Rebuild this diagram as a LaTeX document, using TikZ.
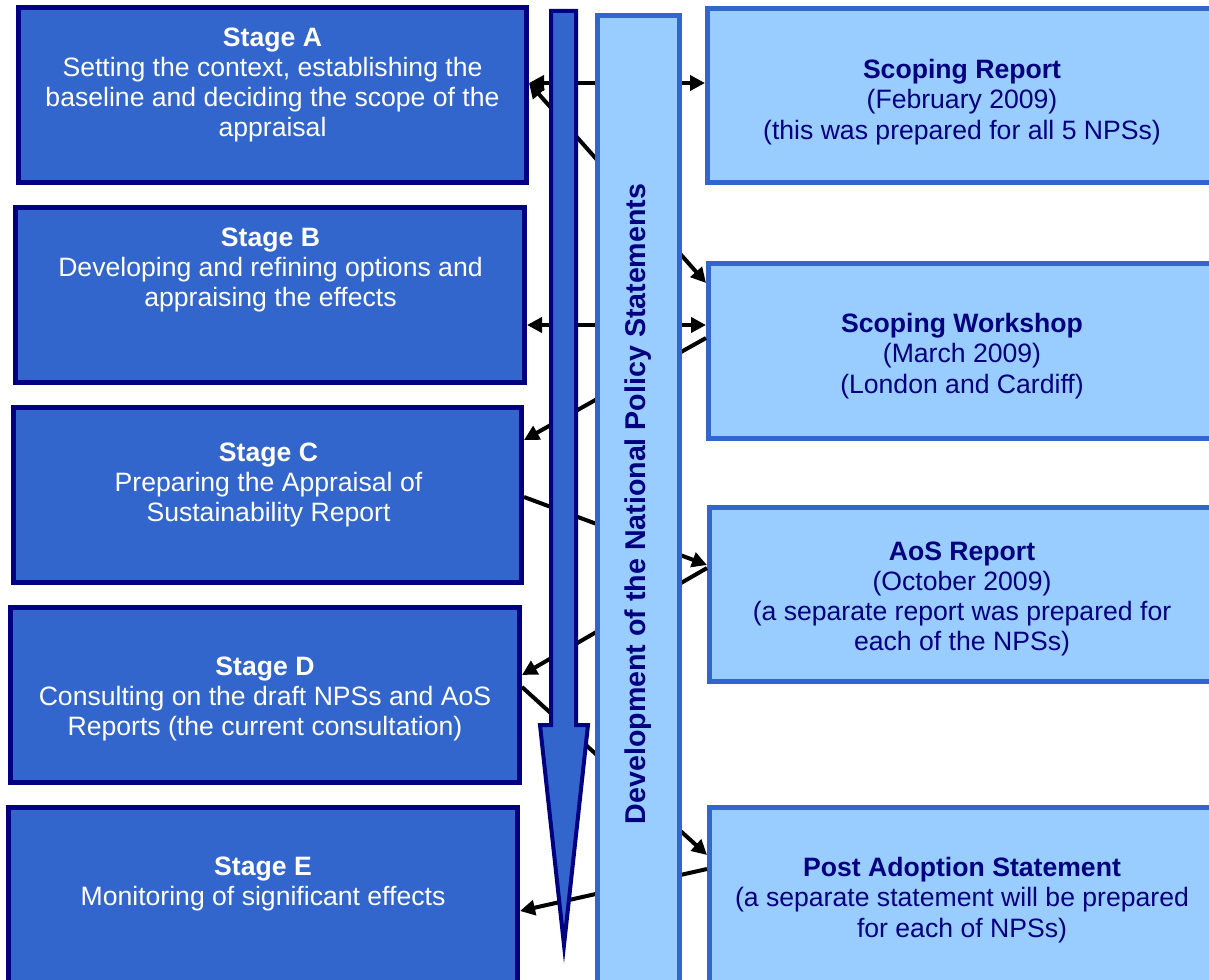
\documentclass[tikz,border=0pt]{standalone}
\usepackage{fontspec}
\setmainfont{Liberation Sans}
\usetikzlibrary{arrows.meta,calc}
\definecolor{navy}{HTML}{000080}
\definecolor{midblue}{HTML}{3366CC}
\definecolor{lightblue}{HTML}{99CCFF}
\begin{document}
\begin{tikzpicture}[x=1pt,y=-1pt,
  stagebox/.style={draw=navy,fill=midblue,line width=5pt,inner sep=0pt},
  outbox/.style={draw=midblue,fill=lightblue,line width=5pt,inner sep=0pt},
  stagetext/.style={text=white,align=center,inner sep=0pt,font=\fontsize{26.6}{30.3}\selectfont},
  outtext/.style={text=navy,align=center,inner sep=0pt,font=\fontsize{26.6}{30.3}\selectfont},
  conn/.style={line width=4pt,black},
  ah/.tip={Triangle[length=15pt,width=15pt]},
  bigarrow/.style={draw=navy,fill=midblue,line width=4pt,line join=miter}
]
\useasboundingbox (0,0) rectangle (1209,979);
\clip (0,0) rectangle (1209,979);

% stage boxes
\node[stagebox,minimum width=508pt,minimum height=175pt] (A) at (272.5,95) {};
\node[stagebox,minimum width=509pt,minimum height=175pt] (B) at (270,295) {};
\node[stagebox,minimum width=508pt,minimum height=175pt] (C) at (267.5,495) {};
\node[stagebox,minimum width=509pt,minimum height=175pt] (D) at (265,695) {};
\node[stagebox,minimum width=509pt,minimum height=175pt] (E) at (263,895) {};

% output boxes
\node[outbox,minimum width=505pt,minimum height=174pt] (R) at (960,95.5) {};
\node[outbox,minimum width=504pt,minimum height=175pt] (W) at (960.5,351) {};
\node[outbox,minimum width=503pt,minimum height=174pt] (S) at (961,594.5) {};
\node[outbox,minimum width=503pt,minimum height=175pt] (P) at (961,895) {};

% texts
\node[stagetext] (tA) at (272.5,85) {\textbf{Stage A}\\Setting the context, establishing the\\baseline and deciding the scope of the\\appraisal};
\node[stagetext] (tB) at (270.5,270) {\textbf{Stage B}\\Developing and refining options and\\appraising the effects};
\node[stagetext] (tC) at (268.5,485) {\textbf{Stage C}\\Preparing the Appraisal of\\Sustainability Report};
\node[stagetext] (tD) at (265,699) {\textbf{Stage D}\\Consulting on the draft NPSs and AoS\\Reports (the current consultation)};
\node[stagetext] (tE) at (263,884) {\textbf{Stage E}\\Monitoring of significant effects};

\node[outtext] (tR) at (962,102) {\textbf{Scoping Report}\\(February 2009)\\(this was prepared for all 5 NPSs)};
\node[outtext] (tW) at (962,356) {\textbf{Scoping Workshop}\\(March 2009)\\(London and Cardiff)};
\node[outtext] (tS) at (962,599) {\textbf{AoS Report}\\(October 2009)\\(a separate report was prepared for\\each of the NPSs)};
\node[outtext] (tP) at (962,900) {\textbf{Post Adoption Statement}\\(a separate statement will be prepared\\for each of NPSs)};

% connectors (behind bar and big arrow)
\draw[conn,{ah}-{ah}] ([yshift=-78pt]A.north east) -- ([yshift=-77pt]R.north west);
\draw[conn,{ah}-{ah}] ([yshift=-78pt]A.north east) -- ([yshift=-22pt]W.north west);
\draw[conn,{ah}-{ah}] ([yshift=-120pt]B.north east) -- ([yshift=-64pt]W.north west);
\draw[conn,-{ah}] ([yshift=-77pt]W.north west) -- ([yshift=-35pt]C.north east);
\draw[conn,-{ah}] ([yshift=-92pt]C.north east) -- ([yshift=-60pt]S.north west);
\draw[conn,-{ah}] ([yshift=-63pt]S.north west) -- ([yshift=-70pt]D.north east);
\draw[conn,-{ah}] ([yshift=-82pt]D.north east) -- ([yshift=-50pt]P.north west);
\draw[conn,-{ah}] ([yshift=-64pt]P.north west) -- ([yshift=-106pt]E.north east);

% vertical bar
\node[outbox,minimum width=82pt,minimum height=972pt] (bar) at (638.5,501.5) {};
\node[rotate=90,text=navy,inner sep=0pt,font=\fontsize{28.6}{32}\selectfont\bfseries] (barText) at (638.5,504) {Development of the National Policy Statements};

% big downward arrow
\draw[bigarrow] (551,11) -- (576,11) -- (576,725) -- (588,725) -- (564,945) -- (540,725) -- (551,725) -- cycle;
\end{tikzpicture}
\end{document}
